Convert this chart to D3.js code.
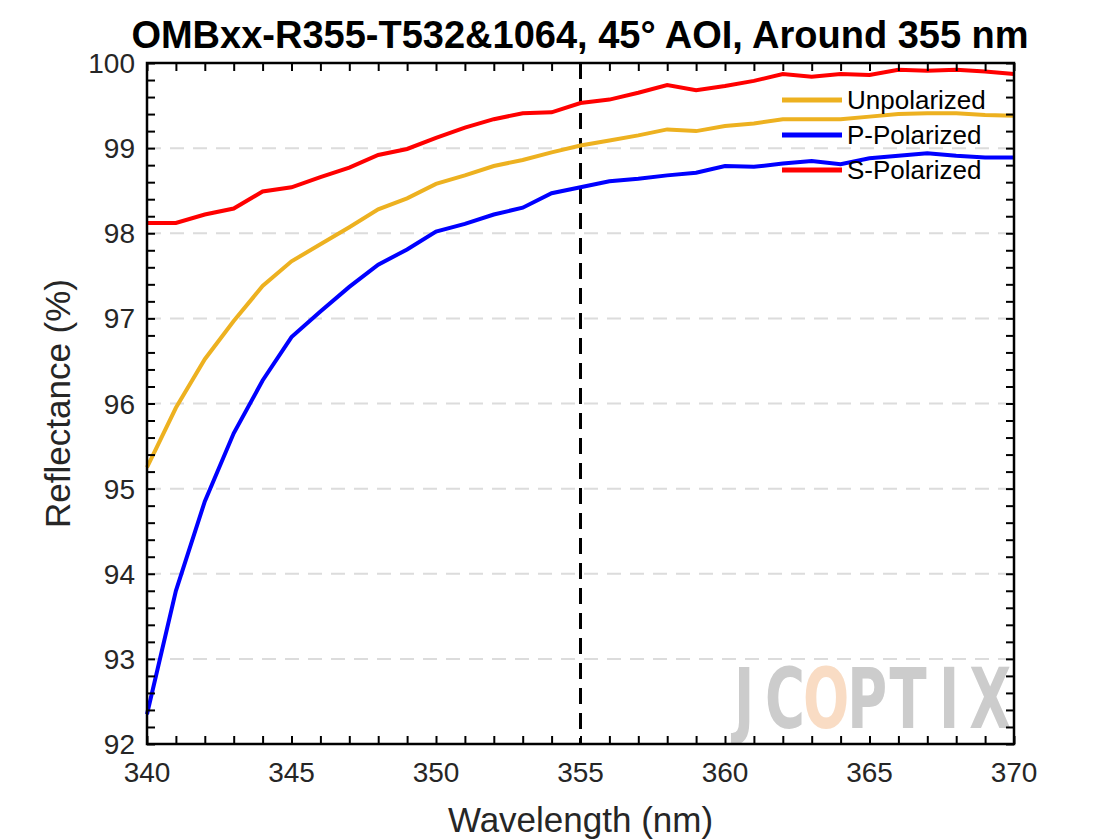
<!DOCTYPE html>
<html><head><meta charset="utf-8">
<script src="https://cdn.jsdelivr.net/npm/d3@7"></script>
<style>body{margin:0;background:#fff}text{font-family:Arial,"Liberation Sans",sans-serif}</style>
</head><body><svg id="chart" width="1120" height="840"></svg>
<script>
var wavelength = d3.range(340, 371);
var unpolarized = [95.25,95.95,96.52,96.97,97.38,97.67,97.87,98.07,98.28,98.41,98.58,98.68,98.79,98.86,98.95,99.03,99.09,99.15,99.22,99.2,99.26,99.29,99.34,99.34,99.34,99.37,99.4,99.41,99.41,99.39,99.38];
var pPolarized = [92.35,93.8,94.85,95.65,96.27,96.78,97.08,97.37,97.63,97.81,98.02,98.11,98.22,98.3,98.47,98.54,98.61,98.64,98.68,98.71,98.79,98.78,98.82,98.85,98.81,98.88,98.91,98.94,98.91,98.89,98.89];
var sPolarized = [98.12,98.12,98.22,98.29,98.49,98.54,98.66,98.77,98.92,98.99,99.12,99.24,99.34,99.41,99.42,99.53,99.57,99.65,99.74,99.68,99.73,99.79,99.87,99.84,99.87,99.86,99.92,99.91,99.92,99.9,99.87];
var seriesNames = ["Unpolarized", "P-Polarized", "S-Polarized"];
var seriesColors = ["#EDB120", "#0000FF", "#FF0000"];
var xTicks = [340,345,350,355,360,365,370];
var yTicks = [92,93,94,95,96,97,98,99,100];

var svg = d3.select("#chart");
var pl = 147, pr = 1014, pt = 63, pb = 744;
var x = d3.scaleLinear().domain([340, 370]).range([pl, pr]);
var y = d3.scaleLinear().domain([92, 100]).range([pb, pt]);

// gridlines
svg.append("g").selectAll("line").data(yTicks.slice(1, -1)).enter().append("line")
  .attr("x1", pl).attr("x2", pr).attr("y1", d => y(d)).attr("y2", d => y(d))
  .style("stroke", "#dcdcdc").style("stroke-width", 2).style("stroke-dasharray", "14,9");

// logo watermark, squeezed horizontally
var logoLetters = ["J", "C", "O", "P", "T", "I", "X"];
svg.append("g").attr("transform", "translate(744,728) scale(0.72,1)")
  .selectAll("text").data(logoLetters).enter().append("text")
  .attr("x", (d, i) => i * 57).attr("text-anchor", "middle")
  .style("font-family", "'DejaVu Sans Condensed','Liberation Sans Narrow',Arial")
  .style("font-weight", "bold").style("font-size", "84px")
  .style("fill", d => d == "O" ? "#f9dcc4" : "#cccccc").text(d => d);

// 355 marker
svg.append("line").attr("x1", x(355)).attr("x2", x(355)).attr("y1", pt).attr("y2", pb)
  .style("stroke", "#000").style("stroke-width", 3).style("stroke-dasharray", "16,9");

var line = d3.line().x((d, i) => x(wavelength[i])).y(d => y(d));
[unpolarized, pPolarized, sPolarized].forEach(function(s, i) {
  svg.append("path").datum(s).attr("d", line).style("fill", "none")
    .style("stroke", seriesColors[i]).style("stroke-width", 4);
});

// axes box with ticks
var minorX = d3.range(340, 371), minorY = d3.range(92, 100.01, 0.2);
function ticks(g, axis) {
  g.call(axis).call(a => a.select(".domain").remove());
  g.selectAll("line").style("stroke", "#000").style("stroke-width", 2);
}
svg.append("g").attr("transform", "translate(0," + pb + ")")
  .call(ticks, d3.axisBottom(x).tickValues(minorX).tickSize(-8).tickFormat(""));
svg.append("g").attr("transform", "translate(0," + pt + ")")
  .call(ticks, d3.axisTop(x).tickValues(minorX).tickSize(-8).tickFormat(""));
svg.append("g").attr("transform", "translate(" + pl + ",0)")
  .call(ticks, d3.axisLeft(y).tickValues(minorY).tickSize(-8).tickFormat(""));
svg.append("g").attr("transform", "translate(" + pr + ",0)")
  .call(ticks, d3.axisRight(y).tickValues(minorY).tickSize(-8).tickFormat(""));
svg.append("rect").attr("x", pl).attr("y", pt).attr("width", pr - pl).attr("height", pb - pt)
  .style("fill", "none").style("stroke", "#000").style("stroke-width", 2.5);

svg.append("g").selectAll("text").data(xTicks).enter().append("text")
  .attr("x", d => x(d)).attr("y", pb + 38).attr("text-anchor", "middle")
  .style("font-size", "28px").style("fill", "#262626").text(d => d);
svg.append("g").selectAll("text").data(yTicks).enter().append("text")
  .attr("x", pl - 12).attr("y", d => y(d) + 10).attr("text-anchor", "end")
  .style("font-size", "28px").style("fill", "#262626").text(d => d);

svg.append("text").attr("x", (pl + pr) / 2).attr("y", 832).attr("text-anchor", "middle")
  .style("font-size", "35px").style("fill", "#262626").text("Wavelength (nm)");
svg.append("text").attr("transform", "translate(70," + ((pt + pb) / 2) + ") rotate(-90)")
  .attr("text-anchor", "middle").style("font-size", "35px").style("fill", "#262626").text("Reflectance (%)");
svg.append("text").attr("x", 580).attr("y", 48).attr("text-anchor", "middle")
  .style("font-size", "38px").style("font-weight", "bold").text("OMBxx-R355-T532&1064, 45° AOI, Around 355 nm");

// legend
var legend = svg.selectAll(".legend").data(seriesNames).enter().append("g")
  .attr("transform", (d, i) => "translate(782," + (100 + i * 35) + ")");
legend.append("line").attr("x1", 0).attr("x2", 60)
  .style("stroke", (d, i) => seriesColors[i]).style("stroke-width", 5);
legend.append("text").attr("x", 65).attr("y", 9).style("font-size", "26px").style("fill", "#000").text(d => d);
</script></body></html>
